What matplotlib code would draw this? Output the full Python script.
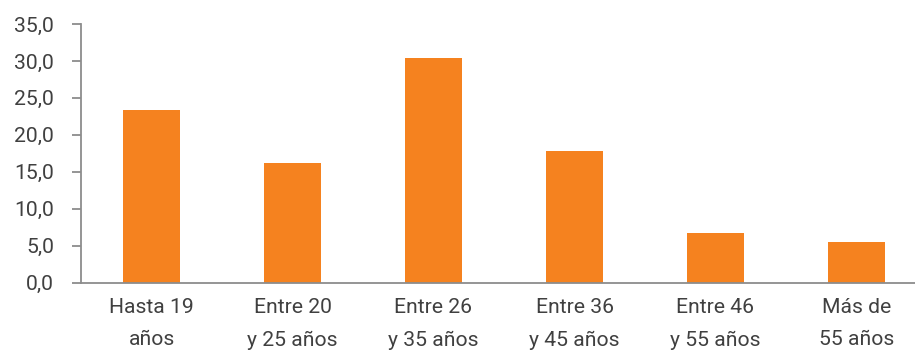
import matplotlib.pyplot as plt
from matplotlib.ticker import FuncFormatter

# share of people by age bracket (%)
categories = ["Hasta 19\naños", "Entre 20\ny 25 años", "Entre 26\ny 35 años",
              "Entre 36\ny 45 años", "Entre 46\ny 55 años", "Más de\n55 años"]
values = [23.4, 16.2, 30.4, 17.8, 6.7, 5.5]

plt.rcParams['font.family'] = ['Roboto', 'DejaVu Sans']

W, H = 915, 351
fig = plt.figure(figsize=(W / 100, H / 100), dpi=100)
ax = fig.add_axes([81 / W, (H - 282.5) / H, 846 / W, 258.5 / H])

ax.bar(range(len(values)), values, width=0.4, color="#F5821F")

ax.set_xlim(-0.5, 5.5)
ax.set_ylim(0, 35)
ax.set_yticks(range(0, 36, 5))
ax.yaxis.set_major_formatter(FuncFormatter(lambda v, _: f"{v:.1f}".replace(".", ",")))
ax.set_xticks(range(len(values)))
ax.set_xticklabels(categories, linespacing=1.9)

text_color = "#404040"
axis_color = "#8c8c8c"
for side in ("top", "right"):
    ax.spines[side].set_visible(False)
for side in ("left", "bottom"):
    ax.spines[side].set_color(axis_color)
    ax.spines[side].set_linewidth(1.3)

ax.tick_params(axis="y", length=6.5, width=1.3, color=axis_color,
               labelsize=15.2, labelcolor=text_color, pad=13)
ax.tick_params(axis="x", length=0, labelsize=15.2, labelcolor=text_color, pad=11)

fig.savefig("out.png", dpi=100)
